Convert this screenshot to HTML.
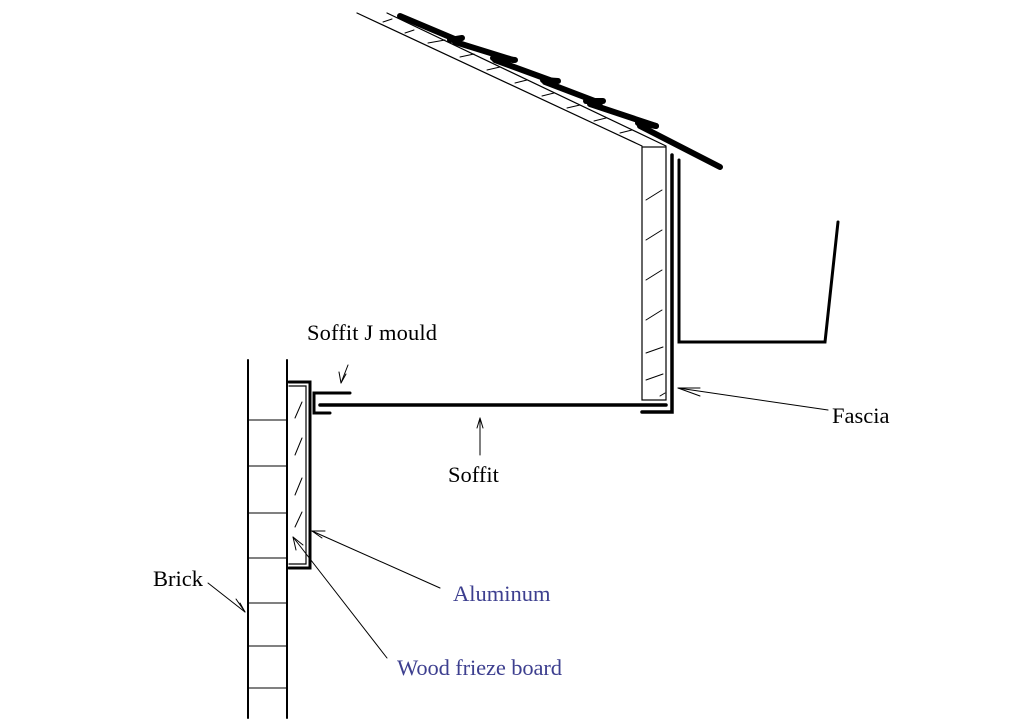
<!DOCTYPE html>
<html><head><style>html,body{margin:0;padding:0;background:#fff;width:1024px;height:720px;overflow:hidden}</style></head>
<body>
<svg width="1024" height="720" viewBox="0 0 1024 720" xmlns="http://www.w3.org/2000/svg">
<g fill="none" stroke="#000" stroke-linecap="round">
<line x1="357" y1="13" x2="642" y2="146" stroke-width="1.2"/>
<line x1="387" y1="13" x2="666" y2="146" stroke-width="1.2"/>
<g stroke-width="1">
<line x1="383" y1="22" x2="392" y2="19"/><line x1="405" y1="33" x2="414" y2="30"/>
<line x1="428" y1="43" x2="445" y2="40"/><line x1="460" y1="57" x2="474" y2="54"/>
<line x1="487" y1="70" x2="500" y2="67"/><line x1="515" y1="83" x2="527" y2="80"/>
<line x1="542" y1="96" x2="554" y2="93"/><line x1="567" y1="108" x2="580" y2="105"/>
<line x1="594" y1="121" x2="606" y2="118"/><line x1="620" y1="133" x2="632" y2="130"/>
</g>
<g stroke-width="6">
<line x1="400" y1="16" x2="457" y2="40"/><line x1="450" y1="40" x2="462" y2="38"/>
<line x1="455" y1="42" x2="513" y2="60"/><line x1="493" y1="58" x2="515" y2="60"/>
<line x1="495" y1="60" x2="555" y2="82"/><line x1="543" y1="80" x2="558" y2="81"/>
<line x1="545" y1="82" x2="600" y2="103"/><line x1="586" y1="101" x2="603" y2="101"/>
<line x1="590" y1="104" x2="656" y2="126"/><line x1="638" y1="123" x2="656" y2="126"/>
<line x1="640" y1="126" x2="720" y2="167"/>
</g>
<rect x="642" y="147" width="24" height="253" stroke-width="1.2"/>
<g stroke-width="1">
<line x1="646" y1="200" x2="662" y2="190"/><line x1="646" y1="240" x2="662" y2="230"/>
<line x1="646" y1="280" x2="662" y2="270"/><line x1="646" y1="320" x2="662" y2="310"/>
<line x1="646" y1="353" x2="663" y2="347"/><line x1="646" y1="380" x2="663" y2="374"/>
<line x1="660" y1="396" x2="665" y2="393"/>
</g>
<polyline points="672,155 672,412 642,412" stroke-width="3.5"/>
<polyline points="679,160 679,342 825,342 838,222" stroke-width="3"/>
<line x1="320" y1="405" x2="666" y2="405" stroke-width="3.5"/>
<polyline points="350,393 314,393 314,413 330,413" stroke-width="3"/>
<line x1="248" y1="360" x2="248" y2="718" stroke-width="2"/>
<line x1="287" y1="360" x2="287" y2="718" stroke-width="2"/>
<g stroke-width="1">
<line x1="248" y1="420" x2="287" y2="420"/><line x1="248" y1="466" x2="287" y2="466"/>
<line x1="248" y1="513" x2="287" y2="513"/><line x1="248" y1="558" x2="287" y2="558"/>
<line x1="248" y1="603" x2="287" y2="603"/><line x1="248" y1="646" x2="287" y2="646"/>
<line x1="248" y1="688" x2="287" y2="688"/>
</g>
<polyline points="289,382 310,382 310,568 289,568" stroke-width="3"/>
<polyline points="289,386 306,386 306,564 289,564" stroke-width="1.2"/>
<g stroke-width="1">
<line x1="295" y1="418" x2="302" y2="402"/><line x1="295" y1="455" x2="302" y2="438"/>
<line x1="295" y1="495" x2="302" y2="478"/><line x1="295" y1="527" x2="302" y2="512"/>
</g>
<g stroke-width="1">
<line x1="348" y1="365" x2="341" y2="383"/><line x1="341" y1="383" x2="339" y2="372"/><line x1="341" y1="383" x2="346" y2="374"/>
<line x1="480" y1="455" x2="480" y2="418"/><line x1="480" y1="418" x2="477" y2="428"/><line x1="480" y1="418" x2="483" y2="428"/>
<line x1="828" y1="410" x2="678" y2="388"/><line x1="678" y1="388" x2="700" y2="388"/><line x1="678" y1="388" x2="700" y2="396"/>
<line x1="208" y1="583" x2="245" y2="612"/><line x1="245" y1="612" x2="236" y2="599"/><line x1="245" y1="612" x2="240" y2="603"/>
<line x1="440" y1="588" x2="312" y2="531"/><line x1="312" y1="531" x2="325" y2="531"/><line x1="312" y1="531" x2="322" y2="538"/>
<line x1="387" y1="658" x2="293" y2="537"/><line x1="293" y1="537" x2="296" y2="550"/><line x1="293" y1="537" x2="303" y2="545"/>
</g>
</g>
<g font-family="Liberation Serif, serif" font-size="22.5">
<text x="307" y="340" fill="#000" textLength="130">Soffit J mould</text>
<text x="448" y="482" fill="#000">Soffit</text>
<text x="832" y="423" fill="#000">Fascia</text>
<text x="153" y="586" fill="#000">Brick</text>
<text x="453" y="601" fill="#3d3f8f">Aluminum</text>
<text x="397" y="675" fill="#3d3f8f" textLength="165">Wood frieze board</text>
</g>
</svg>
</body></html>
